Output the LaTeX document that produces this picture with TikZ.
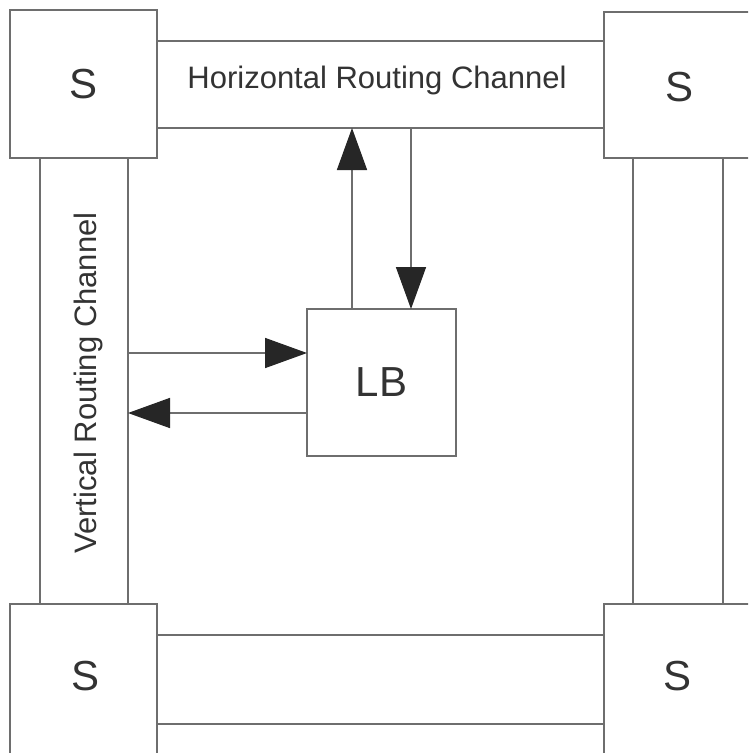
\documentclass[tikz,border=0pt]{standalone}
\usepackage{fontspec}
\setmainfont{Liberation Sans}
\usetikzlibrary{arrows.meta}
\definecolor{linegray}{HTML}{6E6E6E}
\definecolor{txt}{HTML}{333333}
\definecolor{tipc}{HTML}{262626}
\tikzset{
  box/.style={draw=linegray, line width=1.6pt, fill=white, inner sep=0pt, outer sep=0pt, text=txt},
  chan/.style={draw=linegray, line width=1.6pt, inner sep=0pt, outer sep=0pt},
  sw/.style={box, font=\fontsize{42}{42}\selectfont},
  lbl/.style={text=txt, font=\fontsize{31}{31}\selectfont, inner sep=0pt},
  conn/.style={draw=linegray, line width=1.6pt, -{Triangle[length=42pt, width=30pt, color=tipc, fill=tipc]}}
}
\begin{document}
\begin{tikzpicture}[x=1pt, y=-1pt]
\useasboundingbox (0,0) rectangle (748,753);
\clip (0,0) rectangle (748,753);
\fill[white] (0,0) rectangle (748,753);
% channels
\node[chan, minimum width=447pt, minimum height=87pt] (hch) at (380.5,84.5) {};
\node[chan, minimum width=447pt, minimum height=89pt] (bch) at (380.5,679.5) {};
\node[chan, minimum width=88pt, minimum height=446pt] (vch) at (84,381) {};
\node[chan, minimum width=90pt, minimum height=446pt] (rch) at (678,381) {};
% switch boxes
\node[sw, minimum width=147pt, minimum height=148pt] (s1) at (83.5,84) {S};
\node[sw, minimum width=166pt, minimum height=146pt] (s2) at (687,85) {};
\node[text=txt, font=\fontsize{42}{42}\selectfont, inner sep=0pt] (s2t) at (680,87) {S};
\node[sw, minimum width=147pt, minimum height=166pt] (s3) at (83.5,687) {};
\node[text=txt, font=\fontsize{42}{42}\selectfont, inner sep=0pt] (s3t) at (86,676) {S};
\node[sw, minimum width=166pt, minimum height=166pt] (s4) at (687,687) {};
\node[text=txt, font=\fontsize{42}{42}\selectfont, inner sep=0pt] (s4t) at (678,676) {S};
% labels
\node[lbl] (hl) at (377,80) {Horizontal Routing Channel};
\node[lbl, rotate=90] (vl) at (88,383) {Vertical Routing Channel};
% logic block
\node[sw, minimum width=149pt, minimum height=147pt] (lb) at (381.5,382.5) {LB};
% connectors
\coordinate (ua) at (352,0);
\coordinate (da) at (411,0);
\coordinate (ra) at (0,353);
\coordinate (la) at (0,413);
\draw[conn] (lb.north -| ua) -- (hch.south -| ua);
\draw[conn] (hch.south -| da) -- (lb.north -| da);
\draw[conn] (vch.east |- ra) -- (lb.west |- ra);
\draw[conn] (lb.west |- la) -- (vch.east |- la);
\end{tikzpicture}
\end{document}
